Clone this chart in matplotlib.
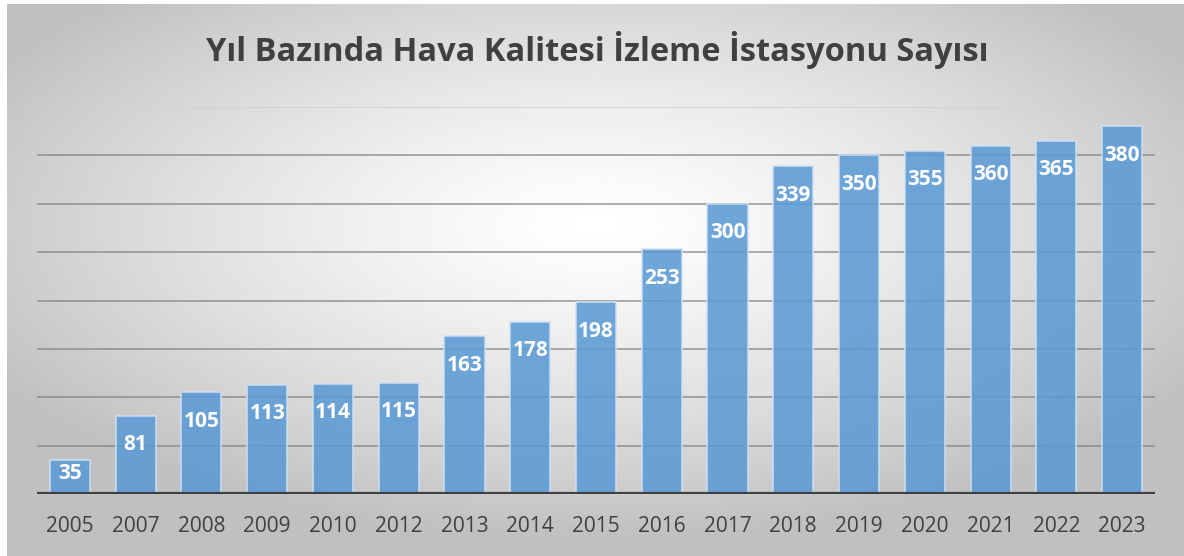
import numpy as np
import matplotlib.pyplot as plt

# Veriler
years = ['2005', '2007', '2008', '2009', '2010', '2012', '2013', '2014', '2015',
         '2016', '2017', '2018', '2019', '2020', '2021', '2022', '2023']
stations = [35, 81, 105, 113, 114, 115, 163, 178, 198,
            253, 300, 339, 350, 355, 360, 365, 380]
title = 'Yıl Bazında Hava Kalitesi İzleme İstasyonu Sayısı'

plt.rcParams['font.family'] = ['Open Sans', 'DejaVu Sans']

fig = plt.figure(figsize=(11.84, 5.56), dpi=100)

# Arka plan: radyal gradyan
bg = fig.add_axes([7 / 1184, 0, 1 - 7 / 1184, 1 - 4 / 556])
gx, gy = np.meshgrid(np.linspace(-1, 1, 400), np.linspace(-1, 1, 200))
r = np.sqrt((gx / 1.2) ** 2 + ((gy + 0.2) / 1.15) ** 2)
r = np.clip(r, 0, 1) ** 1.3
bg.imshow(1 - 0.25 * r, cmap='gray', vmin=0, vmax=1, aspect='auto',
          extent=[0, 1, 0, 1])
bg.axis('off')

ax = fig.add_axes([37 / 1184, 1 - 494 / 556, (1155 - 37) / 1184, (494 - 107) / 556])
ax.patch.set_alpha(0)
x = np.arange(len(years))
ax.bar(x, stations, width=0.61, color='#5b9bd5', alpha=0.88,
       edgecolor='#cfe0f2', linewidth=1.2, zorder=3)

for xi, v in zip(x, stations):
    ly = max(v - 30, v * 0.62)
    ax.text(xi, ly, str(v), ha='center', va='center', color='white',
            fontsize=15, fontweight='bold', zorder=4)

ax.set_xlim(-0.5, len(years) - 0.5)
ax.set_ylim(0, 400)
for g in range(50, 400, 50):
    ax.axhline(g, color='#7f7f7f', linewidth=1.2, alpha=0.75, zorder=1)
ax.axhline(400, color='#d0d0d0', linewidth=1.2, zorder=1)
ax.axhline(0, color='#404040', linewidth=3, zorder=5)

ax.set_xticks(x)
ax.set_xticklabels(years, fontsize=15, color='#404040')
ax.tick_params(axis='x', length=0, pad=16)
ax.set_yticks([])
for s in ax.spines.values():
    s.set_visible(False)

fig.text(597 / 1184, 1 - 50 / 556, title, ha='center', va='center',
         fontsize=23.5, fontweight='bold', color='#404040')

fig.savefig('out.png', dpi=100)
